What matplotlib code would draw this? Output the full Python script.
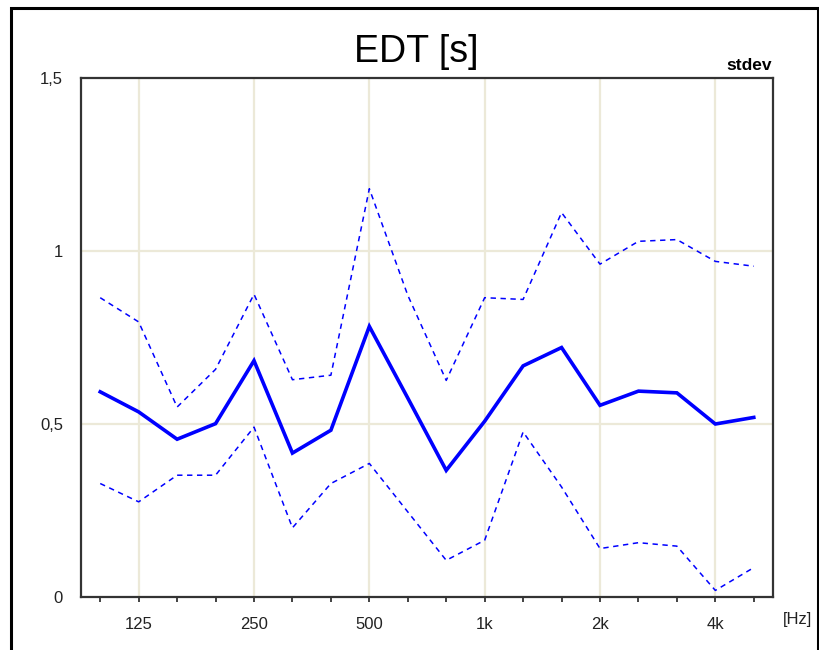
import matplotlib
matplotlib.use("Agg")
import matplotlib.pyplot as plt
from matplotlib.patches import Rectangle

# 1/3-octave bands 100 Hz .. 5 kHz
bands = ["100", "125", "160", "200", "250", "315", "400", "500", "630", "800",
         "1k", "1.25k", "1.6k", "2k", "2.5k", "3.15k", "4k", "5k"]
edt_mean = [0.593, 0.535, 0.456, 0.501, 0.683, 0.416, 0.482, 0.782, 0.575, 0.366,
            0.508, 0.668, 0.721, 0.554, 0.595, 0.590, 0.500, 0.519]
edt_upper = [0.865, 0.795, 0.549, 0.658, 0.875, 0.628, 0.641, 1.180, 0.872, 0.626,
             0.865, 0.860, 1.111, 0.962, 1.028, 1.033, 0.970, 0.956]
edt_lower = [0.328, 0.275, 0.352, 0.352, 0.491, 0.200, 0.328, 0.386, 0.246, 0.106,
             0.164, 0.477, 0.318, 0.140, 0.157, 0.147, 0.019, 0.085]
major_labels = ["125", "250", "500", "1k", "2k", "4k"]
y_ticks = [0, 0.5, 1, 1.5]
y_labels = ["0", "0,5", "1", "1,5"]

plt.rcParams["font.family"] = ["Liberation Sans", "DejaVu Sans"]

W, H = 819, 650
fig = plt.figure(figsize=(W / 100, H / 100), dpi=100)
ax = fig.add_axes([81 / W, (H - 597) / H, 692 / W, 519 / H])

x = list(range(len(bands)))
blue = "#0000FF"
grid_c = "#ECE9D8"

# grid only at labelled positions
major_idx = [bands.index(b) for b in major_labels]
for i in major_idx:
    ax.axvline(i, color=grid_c, lw=1.6, zorder=0)
for v in (0.5, 1.0):
    ax.axhline(v, color=grid_c, lw=1.6, zorder=0)

ax.plot(x, edt_upper, color=blue, lw=1.1, ls=(0, (3.5, 3)), zorder=2)
ax.plot(x, edt_lower, color=blue, lw=1.1, ls=(0, (3.5, 3)), zorder=2)
ax.plot(x, edt_mean, color=blue, lw=2.6, solid_joinstyle="miter", zorder=3)

ax.set_xlim(-0.5, len(bands) - 0.5)
ax.set_ylim(0, 1.5)

ax.set_xticks(x)
ax.set_xticklabels([b if b in major_labels else "" for b in bands], fontsize=12)
ax.tick_params(axis="x", direction="out", length=3.5, width=1.2, pad=11,
               colors="#222222", labelcolor="#222222")
ax.set_yticks(y_ticks)
ax.set_yticklabels(y_labels, fontsize=12)
ax.tick_params(axis="y", length=0, pad=13, labelcolor="#222222")

for s in ax.spines.values():
    s.set_linewidth(1.6)
    s.set_color("#333333")

fig.text(416 / W, 1 - 62 / H, "EDT [s]", fontsize=27, ha="center", va="baseline")
fig.text(772 / W, 1 - 66 / H, "stdev", fontsize=12.5, fontweight="bold",
         ha="right", va="center")
fig.text(797 / W, 1 - 619.5 / H, "[Hz]", fontsize=12, ha="center", va="center",
         color="#222222")

# outer frame of the report panel
fig.patches.append(Rectangle((11 / W, -0.1), (818 - 11) / W, 1.1 - 8 / H,
                             transform=fig.transFigure, fill=False,
                             edgecolor="black", lw=2.2))

fig.savefig("out.png", dpi=100)
